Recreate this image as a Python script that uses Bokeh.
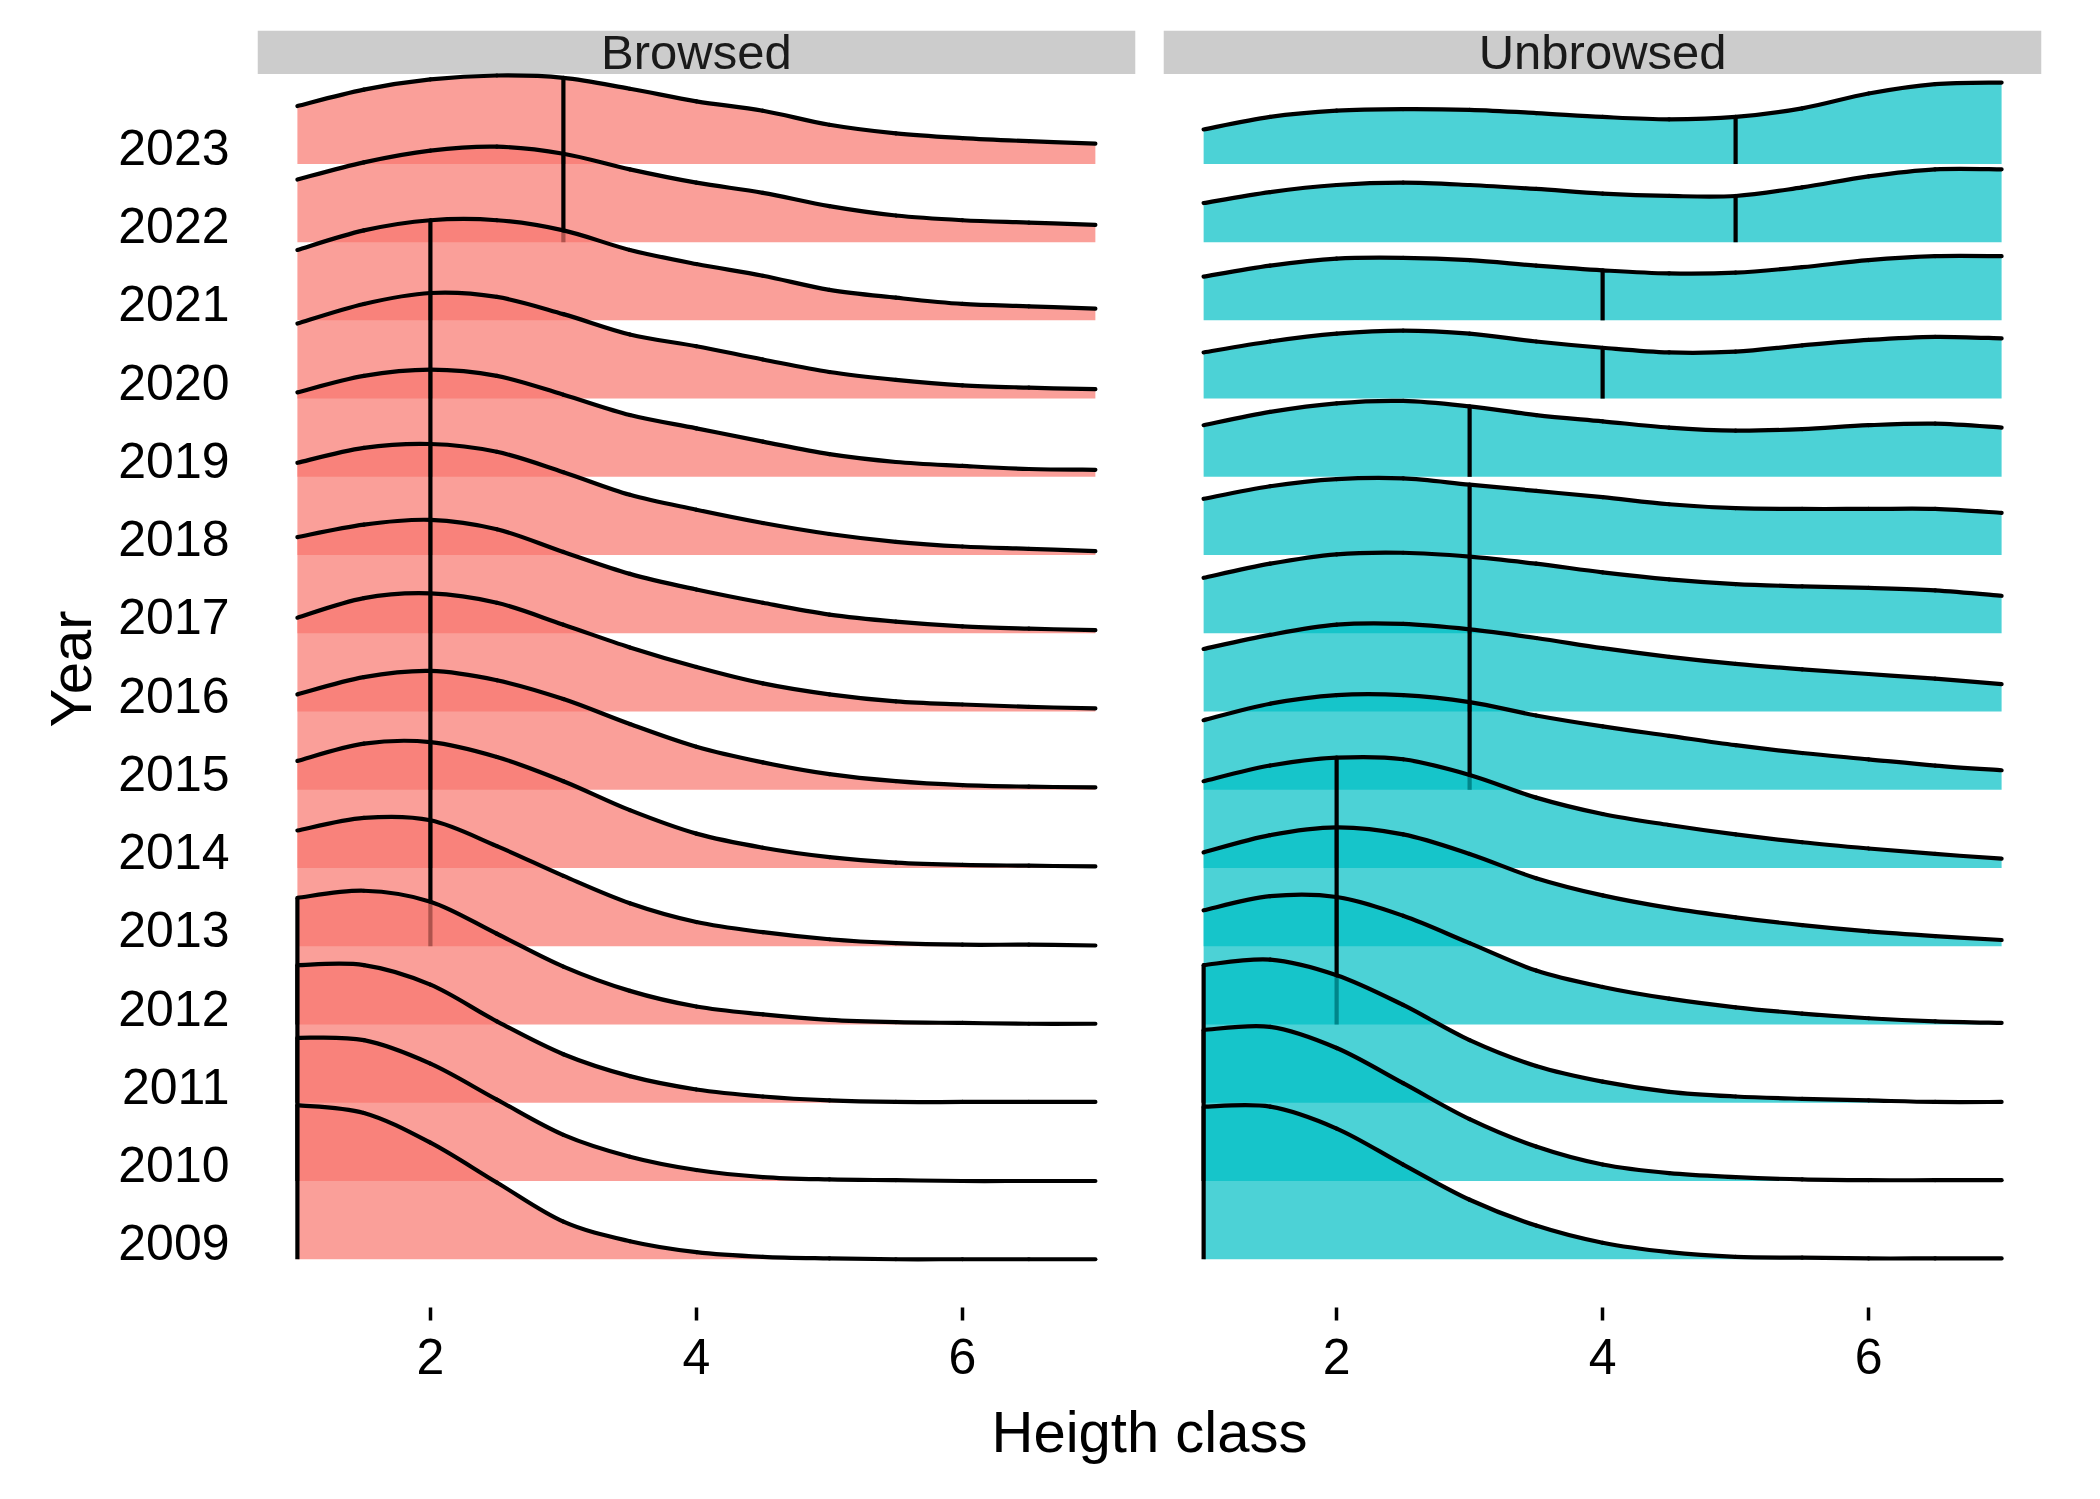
from bokeh.plotting import figure
from bokeh.models import Range1d, FixedTicker
from bokeh.core.properties import value
from bokeh.embed import file_html
from bokeh.resources import INLINE

# ---------------- data ----------------
years = [2009, 2010, 2011, 2012, 2013, 2014, 2015, 2016,
         2017, 2018, 2019, 2020, 2021, 2022, 2023]
height_class = [1.0, 1.5, 2.0, 2.5, 3.0, 3.5, 4.0, 4.5, 5.0, 5.5, 6.0, 6.5, 7.0]
x_ticks = [2, 4, 6]
facets = ["Browsed", "Unbrowsed"]

# ridge heights (in units of one year row) at each height_class value
browsed_2009 = [1.97, 1.87, 1.49, 0.98, 0.48, 0.23, 0.09, 0.03, 0.01, 0.00, 0.00, 0.00, 0.00]
browsed_2010 = [1.83, 1.80, 1.50, 1.04, 0.59, 0.31, 0.14, 0.05, 0.02, 0.01, 0.00, 0.00, 0.00]
browsed_2011 = [1.76, 1.76, 1.51, 1.04, 0.62, 0.34, 0.17, 0.08, 0.03, 0.01, 0.01, 0.01, 0.01]
browsed_2012 = [1.62, 1.71, 1.57, 1.16, 0.74, 0.43, 0.23, 0.13, 0.06, 0.03, 0.02, 0.01, 0.01]
browsed_2013 = [1.48, 1.64, 1.61, 1.28, 0.90, 0.55, 0.31, 0.18, 0.09, 0.04, 0.02, 0.02, 0.01]
browsed_2014 = [1.37, 1.59, 1.61, 1.42, 1.11, 0.74, 0.44, 0.26, 0.14, 0.07, 0.04, 0.03, 0.02]
browsed_2015 = [1.22, 1.44, 1.52, 1.40, 1.16, 0.84, 0.55, 0.35, 0.20, 0.11, 0.06, 0.04, 0.03]
browsed_2016 = [1.20, 1.45, 1.51, 1.39, 1.11, 0.82, 0.57, 0.36, 0.22, 0.13, 0.09, 0.06, 0.04]
browsed_2017 = [1.23, 1.39, 1.45, 1.33, 1.04, 0.76, 0.56, 0.39, 0.24, 0.15, 0.09, 0.06, 0.04]
browsed_2018 = [1.18, 1.37, 1.42, 1.32, 1.06, 0.77, 0.58, 0.41, 0.27, 0.17, 0.11, 0.08, 0.05]
browsed_2019 = [1.08, 1.29, 1.37, 1.29, 1.05, 0.79, 0.62, 0.45, 0.29, 0.19, 0.14, 0.10, 0.09]
browsed_2020 = [0.96, 1.21, 1.35, 1.30, 1.08, 0.82, 0.67, 0.50, 0.34, 0.24, 0.17, 0.14, 0.12]
browsed_2021 = [0.90, 1.15, 1.28, 1.28, 1.15, 0.90, 0.72, 0.57, 0.39, 0.29, 0.21, 0.18, 0.15]
browsed_2022 = [0.80, 1.02, 1.17, 1.22, 1.13, 0.93, 0.76, 0.63, 0.46, 0.34, 0.28, 0.25, 0.22]
browsed_2023 = [0.74, 0.95, 1.08, 1.13, 1.10, 0.96, 0.80, 0.68, 0.50, 0.39, 0.33, 0.29, 0.26]

unbrowsed_2009 = [1.95, 1.95, 1.67, 1.21, 0.76, 0.43, 0.21, 0.09, 0.03, 0.02, 0.01, 0.01, 0.01]
unbrowsed_2010 = [1.93, 1.97, 1.70, 1.25, 0.79, 0.44, 0.21, 0.10, 0.05, 0.02, 0.01, 0.01, 0.01]
unbrowsed_2011 = [1.76, 1.83, 1.63, 1.25, 0.80, 0.47, 0.27, 0.14, 0.08, 0.05, 0.03, 0.01, 0.01]
unbrowsed_2012 = [1.46, 1.64, 1.63, 1.39, 1.04, 0.69, 0.48, 0.33, 0.22, 0.14, 0.08, 0.04, 0.02]
unbrowsed_2013 = [1.20, 1.42, 1.52, 1.43, 1.18, 0.87, 0.65, 0.49, 0.37, 0.27, 0.19, 0.13, 0.08]
unbrowsed_2014 = [1.11, 1.31, 1.41, 1.39, 1.19, 0.90, 0.69, 0.55, 0.43, 0.33, 0.25, 0.18, 0.12]
unbrowsed_2015 = [0.89, 1.10, 1.21, 1.21, 1.12, 0.95, 0.81, 0.69, 0.57, 0.47, 0.39, 0.31, 0.25]
unbrowsed_2016 = [0.80, 0.98, 1.11, 1.12, 1.05, 0.94, 0.81, 0.70, 0.61, 0.54, 0.48, 0.42, 0.35]
unbrowsed_2017 = [0.71, 0.89, 1.01, 1.03, 0.98, 0.89, 0.78, 0.69, 0.63, 0.60, 0.58, 0.55, 0.48]
unbrowsed_2018 = [0.72, 0.88, 0.97, 0.98, 0.90, 0.82, 0.74, 0.65, 0.60, 0.59, 0.59, 0.59, 0.54]
unbrowsed_2019 = [0.66, 0.83, 0.94, 0.97, 0.90, 0.79, 0.71, 0.63, 0.59, 0.61, 0.66, 0.68, 0.63]
unbrowsed_2020 = [0.59, 0.73, 0.83, 0.87, 0.83, 0.73, 0.65, 0.59, 0.60, 0.68, 0.75, 0.79, 0.77]
unbrowsed_2021 = [0.56, 0.70, 0.79, 0.80, 0.77, 0.70, 0.64, 0.60, 0.61, 0.68, 0.77, 0.82, 0.82]
unbrowsed_2022 = [0.50, 0.64, 0.73, 0.76, 0.73, 0.68, 0.62, 0.59, 0.59, 0.70, 0.84, 0.93, 0.93]
unbrowsed_2023 = [0.44, 0.60, 0.68, 0.70, 0.69, 0.65, 0.60, 0.57, 0.60, 0.71, 0.90, 1.02, 1.04]

# median height class per year (quantile line)
browsed_median = [1, 1, 1, 1, 2, 2, 2, 2, 2, 2, 2, 2, 2, 3, 3]
unbrowsed_median = [1, 1, 1, 2, 2, 2, 3, 3, 3, 3, 3, 4, 4, 5, 5]

browsed_density = [browsed_2009, browsed_2010, browsed_2011, browsed_2012, browsed_2013,
                   browsed_2014, browsed_2015, browsed_2016, browsed_2017, browsed_2018,
                   browsed_2019, browsed_2020, browsed_2021, browsed_2022, browsed_2023]
unbrowsed_density = [unbrowsed_2009, unbrowsed_2010, unbrowsed_2011, unbrowsed_2012,
                     unbrowsed_2013, unbrowsed_2014, unbrowsed_2015, unbrowsed_2016,
                     unbrowsed_2017, unbrowsed_2018, unbrowsed_2019, unbrowsed_2020,
                     unbrowsed_2021, unbrowsed_2022, unbrowsed_2023]

# ---------------- layout / style ----------------
FONT = "Liberation Sans"
X_LO, X_HI = 0.7, 7.3          # each facet's x extent
GAP = 0.214                     # gap between facets (x units)
SHIFT = X_HI - X_LO + GAP       # offset of the second facet
Y_LO, Y_HI = -0.617, 15.705
PANEL_TOP = 15.148              # strip sits above this
LABEL_LIFT = 0.21               # year labels sit on the ridge baseline
LW = 4.2

facet_specs = [
    (facets[0], browsed_density, browsed_median, "#F8766D", 0.0),
    (facets[1], unbrowsed_density, unbrowsed_median, "#00BFC4", SHIFT),
]


def smooth_outline(fig, xs, ys):
    """Stroke a smooth (Catmull-Rom style) outline through the read points
    using Bokeh's own Bezier glyph; the curve passes through every point."""
    n = len(xs)
    ex = [xs[0]] + list(xs) + [xs[-1]]
    ey = [ys[0]] + list(ys) + [ys[-1]]
    x0, y0, x1, y1, cx0, cy0, cx1, cy1 = [], [], [], [], [], [], [], []
    for i in range(n - 1):
        a, b, c, d = i, i + 1, i + 2, i + 3   # indices into padded arrays
        x0.append(ex[b]); y0.append(ey[b])
        x1.append(ex[c]); y1.append(ey[c])
        cx0.append(ex[b] + (ex[c] - ex[a]) / 6.0)
        cy0.append(ey[b] + (ey[c] - ey[a]) / 6.0)
        cx1.append(ex[c] - (ex[d] - ex[b]) / 6.0)
        cy1.append(ey[c] - (ey[d] - ey[b]) / 6.0)
    fig.bezier(x0=x0, y0=y0, x1=x1, y1=y1, cx0=cx0, cy0=cy0, cx1=cx1, cy1=cy1,
               line_color="black", line_width=LW, line_cap="round")


p = figure(width=2100, height=1499, output_backend="svg", toolbar_location=None,
           x_range=Range1d(X_LO, X_HI + SHIFT), y_range=Range1d(Y_LO, Y_HI),
           min_border_left=257, min_border_right=59, min_border_top=30,
           min_border_bottom=192)
p.outline_line_color = None
p.grid.visible = False
p.background_fill_color = "white"
p.border_fill_color = "white"

for name, dens, med, col, off in facet_specs:
    xs = [x + off for x in height_class]
    # strip
    p.quad(left=[X_LO + off], right=[X_HI + off], bottom=[PANEL_TOP], top=[Y_HI],
           fill_color="#CCCCCC", line_color=None)
    p.text(x=[(X_LO + X_HI) / 2 + off], y=[(PANEL_TOP + Y_HI) / 2], text=[name],
           text_align="center", text_baseline="middle", text_color="#1A1A1A",
           text_font=value(FONT), text_font_size="49px")
    # ridges, top row first so lower rows overlay
    for i in reversed(range(len(years))):
        base = i
        ys = [base + h for h in dens[i]]
        p.patch(xs + [xs[-1], xs[0]], ys + [base, base],
                fill_color=col, fill_alpha=0.7, line_color=None)
        smooth_outline(p, xs, ys)
        m = med[i]
        hm = dens[i][height_class.index(m)]
        p.segment(x0=[m + off], y0=[base], x1=[m + off], y1=[base + hm],
                  line_color="black", line_width=LW)

# x axis
xt = [t + off for _, _, _, _, off in facet_specs for t in x_ticks]
p.xaxis.ticker = FixedTicker(ticks=xt)
p.xaxis.major_label_overrides = {t + off: str(t) for _, _, _, _, off in facet_specs for t in x_ticks}
p.xaxis.axis_line_color = None
p.xaxis.major_tick_line_color = "black"
p.xaxis.major_tick_line_width = 3.5
p.xaxis.major_tick_out = 13
p.xaxis.major_tick_in = 0
p.xaxis.minor_tick_line_color = None
p.xaxis.major_label_standoff = 18
p.xaxis.major_label_text_font = FONT
p.xaxis.major_label_text_font_size = "50px"
p.xaxis.major_label_text_color = "black"
p.xaxis.axis_label = "Heigth class"
p.xaxis.axis_label_text_font = FONT
p.xaxis.axis_label_text_font_size = "58px"
p.xaxis.axis_label_text_font_style = "normal"
p.xaxis.axis_label_text_color = "black"
p.xaxis.axis_label_standoff = 22

# y axis
yt = [i + LABEL_LIFT for i in range(len(years))]
p.yaxis.ticker = FixedTicker(ticks=yt)
p.yaxis.major_label_overrides = {i + LABEL_LIFT: str(y) for i, y in enumerate(years)}
p.yaxis.axis_line_color = None
p.yaxis.major_tick_line_color = None
p.yaxis.minor_tick_line_color = None
p.yaxis.major_tick_out = 0
p.yaxis.major_tick_in = 0
p.yaxis.major_label_standoff = 28
p.yaxis.major_label_text_font = FONT
p.yaxis.major_label_text_font_size = "50px"
p.yaxis.major_label_text_color = "black"
p.yaxis.axis_label = "Year"
p.yaxis.axis_label_text_font = FONT
p.yaxis.axis_label_text_font_size = "58px"
p.yaxis.axis_label_text_font_style = "normal"
p.yaxis.axis_label_text_color = "black"
p.yaxis.axis_label_standoff = 12

open("out.html", "w").write(file_html(p, INLINE))
